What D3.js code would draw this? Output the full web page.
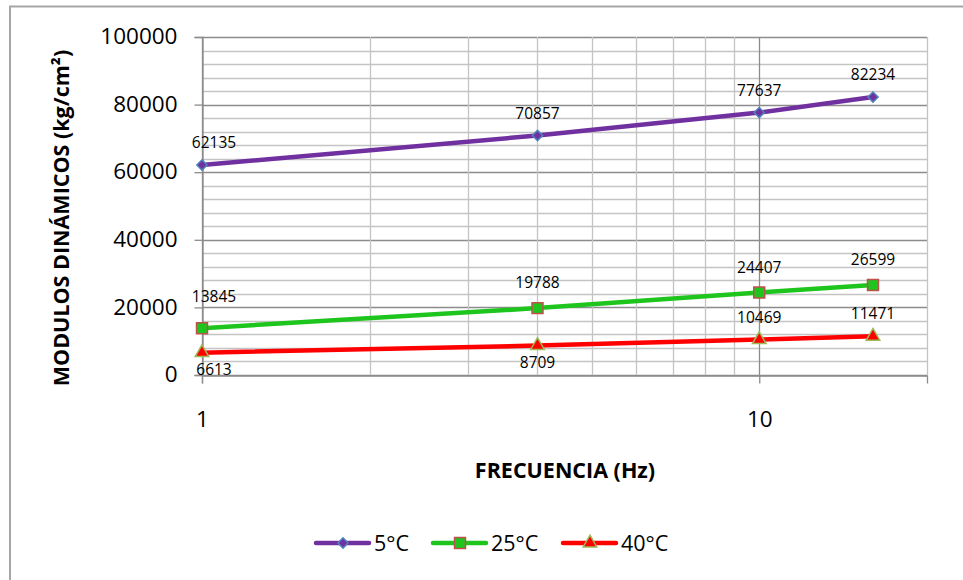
<!DOCTYPE html>
<html><head><meta charset="utf-8">
<script src="https://cdn.jsdelivr.net/npm/d3@7/dist/d3.min.js"></script>
<style>body{margin:0;background:#fff}svg{display:block;font-family:"Open Sans",sans-serif}</style>
</head><body><svg id="c" width="963" height="580"></svg>
<script>
const frequencies = [1, 4, 10, 16];
const seriesNames = ["5°C", "25°C", "40°C"];
const values5 = [62135, 70857, 77637, 82234];
const values25 = [13845, 19788, 24407, 26599];
const values40 = [6613, 8709, 10469, 11471];
const yTicks = [0, 20000, 40000, 60000, 80000, 100000];
const xTickLabels = [1, 10];
const labelSide40 = ["below", "below", "above", "above"];

const FONT = "'Open Sans',sans-serif";
const svg = d3.select("#c");
const L = 202, R = 927, T = 37, B = 375;
const x = d3.scaleLog().domain([1, 20]).range([L, R]);
const y = d3.scaleLinear().domain([0, 100000]).range([B, T]);

svg.append("rect").attr("x", 10).attr("y", 6.5).attr("width", 970).attr("height", 600)
  .attr("fill", "none").attr("stroke", "#a6a6a6").attr("stroke-width", 2);

const g = svg.append("g");
const minorY = d3.range(0, 100001, 4000);
g.selectAll(".hy").data(minorY).join("line")
  .attr("x1", L).attr("x2", R).attr("y1", d => Math.round(y(d)) + 0.5).attr("y2", d => Math.round(y(d)) + 0.5)
  .attr("stroke", d => d % 20000 === 0 ? "#8c8c8c" : "#c4c4c4").attr("stroke-width", 1.3);
const vx = [1,2,3,4,5,6,7,8,9,10,20];
g.selectAll(".vx").data(vx).join("line")
  .attr("y1", T).attr("y2", B).attr("x1", d => Math.round(x(d)) + 0.5).attr("x2", d => Math.round(x(d)) + 0.5)
  .attr("stroke", d => (d === 1 || d === 10) ? "#8c8c8c" : "#c4c4c4").attr("stroke-width", 1.3);

const yAxis = d3.axisLeft(y).tickValues(yTicks).tickSize(8).tickPadding(17).tickFormat(d3.format("d"));
const ya = svg.append("g").attr("transform", `translate(${L + 0.5},0)`).call(yAxis);
ya.select(".domain").attr("stroke", "#8c8c8c").attr("stroke-width", 1.3);
ya.selectAll(".tick line").attr("stroke", "#8c8c8c").attr("stroke-width", 1.3);
ya.selectAll("text").attr("font-size", 22.5).attr("fill", "#000").attr("font-family", FONT).attr("dy", "0.3em");

const xAxis = d3.axisBottom(x).tickValues(xTickLabels).tickSize(8).tickPadding(28).tickFormat(d3.format("d"));
const xa = svg.append("g").attr("transform", `translate(0,${B + 0.5})`).call(xAxis);
xa.select(".domain").attr("stroke", "#8c8c8c").attr("stroke-width", 1.3);
xa.selectAll(".tick line").attr("stroke", "#8c8c8c").attr("stroke-width", 1.3);
xa.selectAll("text").attr("font-size", 22.5).attr("fill", "#000").attr("font-family", FONT);

svg.append("text").attr("x", 565).attr("y", 478).attr("text-anchor", "middle")
  .attr("font-size", 21.5).attr("font-weight", "bold").text("FRECUENCIA (Hz)");
svg.append("text").attr("transform", "translate(69,218) rotate(-90)").attr("text-anchor", "middle")
  .attr("font-size", 21.5).attr("font-weight", "bold").text("MODULOS DINÁMICOS (kg/cm²)");

const series = [
  {name: seriesNames[0], vals: values5, color: "#7030A0", mfill: "#7030A0", mstroke: "#4F81BD", sym: d3.symbolSquare, size: 52, rot: 45},
  {name: seriesNames[1], vals: values25, color: "#1DC51D", mfill: "#1DC51D", mstroke: "#C0504D", sym: d3.symbolSquare, size: 120, rot: 0},
  {name: seriesNames[2], vals: values40, color: "#FF0000", mfill: "#FF0000", mstroke: "#9BBB59", sym: d3.symbolTriangle, size: 80, rot: 0}
];
const line = d3.line().x((d, i) => x(frequencies[i])).y(d => y(d));
series.forEach((s, si) => {
  svg.append("path").datum(s.vals).attr("d", line).attr("fill", "none")
    .attr("stroke", s.color).attr("stroke-width", 4.5).attr("stroke-linecap", "round");
  svg.selectAll(null).data(s.vals).join("path")
    .attr("transform", (d, i) => `translate(${x(frequencies[i])},${y(d)}) rotate(${s.rot})`)
    .attr("d", d3.symbol(s.sym, s.size)).attr("fill", s.mfill).attr("stroke", s.mstroke).attr("stroke-width", 1.5);
  svg.selectAll(null).data(s.vals).join("text")
    .attr("x", (d, i) => x(frequencies[i]) + (i === 0 ? 12 : 0))
    .attr("y", (d, i) => {
      const py = y(d);
      if (si === 0) return py - 17;
      if (si === 1) return py - (i === 0 ? 26 : 20);
      return labelSide40[i] === "below" ? py + 22 : py - 17;
    })
    .attr("text-anchor", "middle").attr("font-size", 15.5).attr("fill", "#000").text(d => d);
});

const lg = svg.append("g");
const lx = [316, 433, 563];
series.forEach((s, i) => {
  const gx = lx[i], gy = 543;
  lg.append("line").attr("x1", gx).attr("x2", gx + 53).attr("y1", gy).attr("y2", gy)
    .attr("stroke", s.color).attr("stroke-width", 4.5).attr("stroke-linecap", "round");
  lg.append("path").attr("transform", `translate(${gx + 27},${gy}) rotate(${s.rot})`).attr("d", d3.symbol(s.sym, s.size))
    .attr("fill", s.mfill).attr("stroke", s.mstroke).attr("stroke-width", 1.5);
  lg.append("text").attr("x", gx + 58).attr("y", gy + 8).attr("font-size", 21.5).text(s.name);
});
</script></body></html>
